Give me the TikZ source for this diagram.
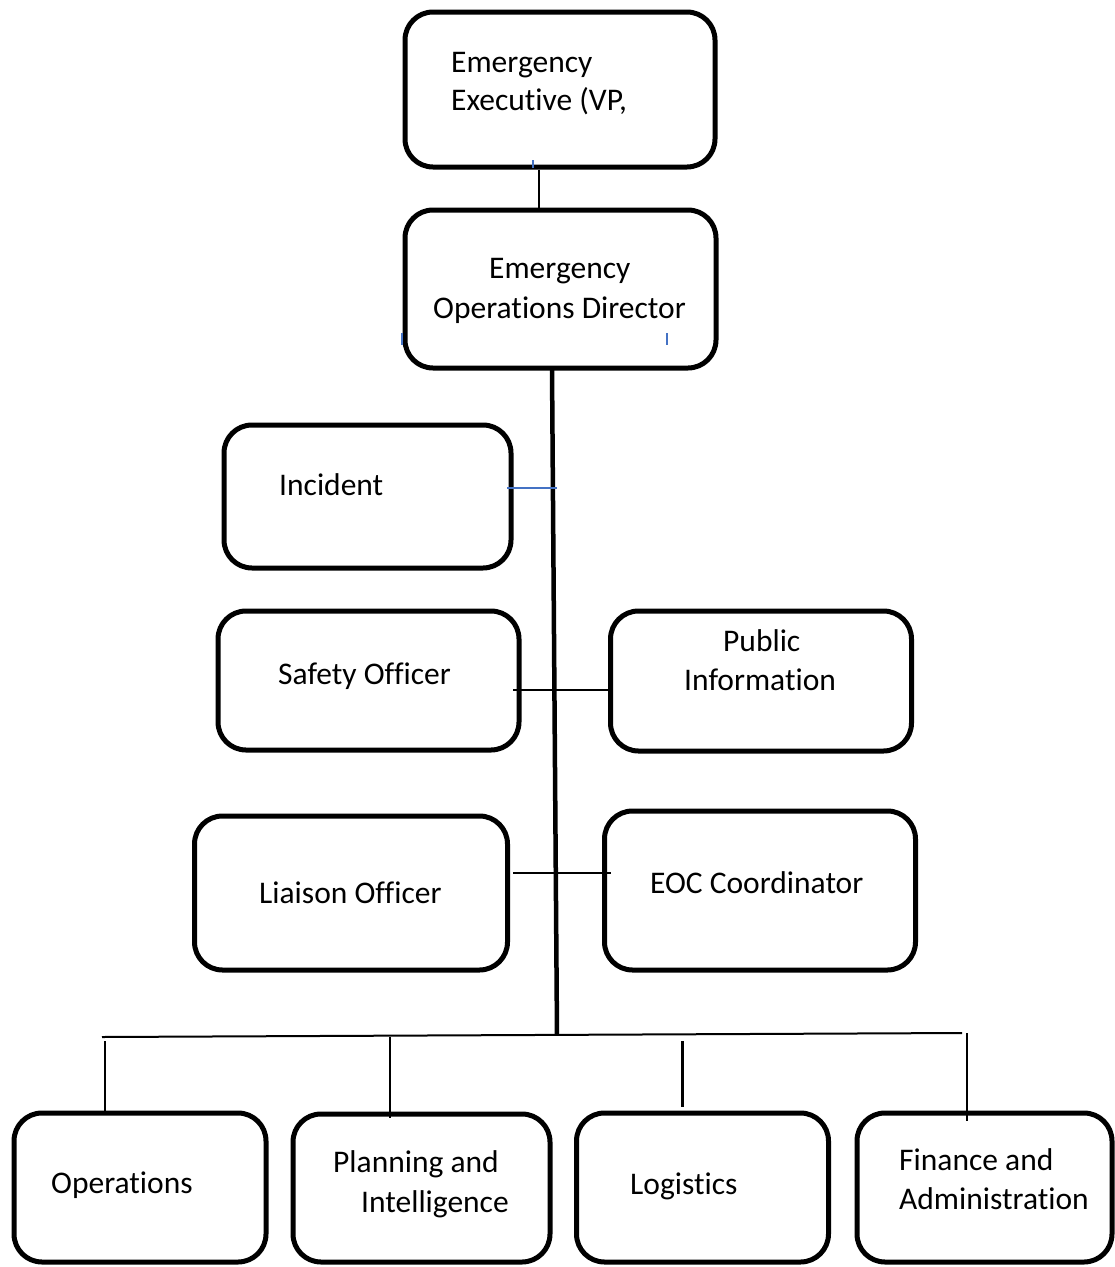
\documentclass[tikz,border=0pt]{standalone}
\usepackage{fontspec}
\setmainfont[Ligatures={NoCommon,NoRare}]{Carlito}
\definecolor{tickblue}{RGB}{68,114,196}
\begin{document}
\begin{tikzpicture}[x=1pt,y=-1pt,
  box/.style={draw=black,line width=5pt,rounded corners=28pt,minimum width=#1,inner sep=0pt},
  lbl/.style={anchor=base west,inner sep=0pt,font=\fontsize{31.5}{38}\selectfont},
  thin/.style={line width=2pt,black},
  bluel/.style={line width=2pt,tickblue},
  trunk/.style={line width=4.5pt,black}]
\useasboundingbox (0,0) rectangle (1115,1267);
% boxes
\node[box=310pt,minimum height=155pt] (exec) at (560,89.5) {};
\node[box=311pt,minimum height=158pt] (dir) at (560.5,289) {};
\node[box=287pt,minimum height=143pt] (inc) at (367.5,496.5) {};
\node[box=301pt,minimum height=139pt] (safe) at (368.5,680.5) {};
\node[box=301pt,minimum height=140pt] (pub) at (761,681) {};
\node[box=313pt,minimum height=154pt] (liai) at (351,893) {};
\node[box=311pt,minimum height=159pt] (eoc) at (760,890.5) {};
\node[box=252pt,minimum height=149pt] (ops) at (140,1187.5) {};
\node[box=257pt,minimum height=148pt] (plan) at (421.5,1188) {};
\node[box=252pt,minimum height=149pt] (logi) at (702.5,1187.5) {};
\node[box=255pt,minimum height=149pt] (fin) at (984.5,1187.5) {};
% texts
\node[lbl] (t1a) at (451,72) {Emergency};
\node[lbl] (t1b) at (451,110) {Executive (VP,};
\node[lbl] (t2a) at (489,278) {Emergency};
\node[lbl] (t2b) at (433,318) {Operations Director};
\node[lbl] (t3) at (279,495) {Incident};
\node[lbl] (t4) at (278,684) {Safety Officer};
\node[lbl] (t5a) at (723,651) {Public};
\node[lbl] (t5b) at (684,690) {Information};
\node[lbl] (t6) at (259,903) {Liaison Officer};
\node[lbl] (t7) at (650,893) {EOC Coordinator};
\node[lbl] (t8) at (51,1193) {Operations};
\node[lbl] (t9a) at (333,1172) {Planning and};
\node[lbl] (t9b) at (361,1212) {Intelligence};
\node[lbl] (t10) at (630,1194) {Logistics};
\node[lbl] (t11a) at (899,1170) {Finance and};
\node[lbl] (t11b) at (899,1209) {Administration};
% coordinates
\coordinate (trtop) at (552,368);
\coordinate (trbot) at (557,1035);
\coordinate (busL) at (102,1037);
\coordinate (busR) at (962,1033);
% exec - director
\draw[line width=2.5pt] (exec.south -| 539,0) -- (dir.north -| 539,0);
% blue ticks
\draw[bluel] (533,160) coordinate (bt1) -- (533,168) coordinate (bt1e);
\draw[bluel] (402,333) coordinate (bt2) -- (402,345) coordinate (bt2e);
\draw[bluel] (667,333) coordinate (bt3) -- (667,345) coordinate (bt3e);
% trunk
\draw[trunk] (trtop) -- (trbot);
% side connectors
\draw[bluel] (507,488) coordinate (incR) -- (557,488) coordinate (incT);
\draw[thin] (513,690) coordinate (safeR) -- (pub.west |- 0,690);
\draw[thin] (513,873) coordinate (liaiR) -- (611,873) coordinate (eocL);
% bus
\draw[thin] (busL) -- (busR);
\draw[thin] (105,1041) coordinate (opsT) -- (ops.north -| 105,0);
\draw[thin] (390,1037) coordinate (planT) -- (390,1118) coordinate (planB);
\draw[line width=3pt] (682,1041) coordinate (logiT) -- (682,1107) coordinate (logiB);
\draw[thin] (967,1033) coordinate (finT) -- (967,1121) coordinate (finB);
\end{tikzpicture}
\end{document}
